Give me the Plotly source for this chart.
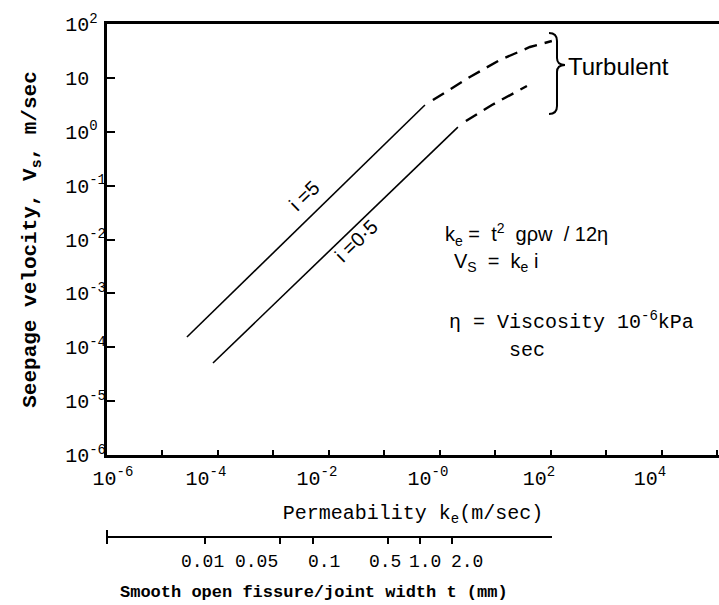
import plotly.graph_objects as go
import numpy as np

# ---- data ----
ke_i5_laminar = [2.76e-5, 0.537]
vs_i5_laminar = [1.55e-4, 3.14]
ke_i5_turb = [0.748, 3.47, 12.1, 41.9, 104]
vs_i5_turb = [3.88, 10.4, 21.5, 37.4, 48.3]

ke_i05_laminar = [8.13e-5, 2.11]
vs_i05_laminar = [5.1e-5, 1.22]
ke_i05_turb = [2.94, 8.65, 37.0]
vs_i05_turb = [1.58, 3.14, 7.06]

x_label_exponents = [-6, -4, -2, 0, 2, 4]
x_label_powers = ["-6", "-4", "-2", "-0", "2", "4"]
x_minor_exponents = [-5, -3, -1, 1, 3, 5]
y_exponents = list(range(-6, 3))
t_ticks = [0.01, 0.05, 0.1, 0.5, 1.0, 2.0]
t_labels = ["0.01", "0.05", "0.1", "0.5", "1.0", "2.0"]

MONO = "Liberation Mono"
SANS = "Liberation Sans"
W, H = 719, 605
L, R, T, B = 107, 0, 24, 68
PW, PH = W - L - R, H - T - B


def px(x):
    return (x - L) / PW


def py(y):
    return (H - B - y) / PH


NB = "\u00a0"
x_ticktext = []
for i, p in enumerate(x_label_powers):
    lead = NB if i == 0 else ""
    trail = "" if i == 0 else NB + NB
    x_ticktext.append(lead + "10<sup>" + p + "</sup>" + trail)

y_ticktext = []
for e in y_exponents:
    if e == 1:
        y_ticktext.append("10<sup>" + NB + NB + "</sup>")
    elif e >= 0:
        y_ticktext.append("10<sup>" + str(e) + NB + "</sup>")
    else:
        y_ticktext.append("10<sup>" + str(e) + "</sup>")

# small horizontal nudges (px) so the fissure-width labels sit like the printed ones
t_label_shift = [-3, -24, 11, -3, 5, 15]

fig = go.Figure()
solid = dict(color="black", width=1.6)
dashed = dict(color="black", width=2.4, dash="13px,8px")
fig.add_trace(go.Scatter(x=ke_i5_laminar, y=vs_i5_laminar, mode="lines", line=solid, showlegend=False))
fig.add_trace(go.Scatter(x=ke_i5_turb, y=vs_i5_turb, mode="lines", line=dashed, showlegend=False))
fig.add_trace(go.Scatter(x=ke_i05_laminar, y=vs_i05_laminar, mode="lines", line=solid, showlegend=False))
fig.add_trace(go.Scatter(x=ke_i05_turb, y=vs_i05_turb, mode="lines", line=dashed, showlegend=False))
# trace hosting the fissure-width axis (no visible marks)
fig.add_trace(go.Scatter(x=t_ticks, y=[None] * len(t_ticks), xaxis="x2", yaxis="y",
                         mode="markers", showlegend=False, hoverinfo="skip"))

t_lo = 10 ** (-2 - (205 - L) / 107.5)
t_hi = 10 ** ((552 - 420) / 107.5)

fig.update_layout(
    width=W, height=H,
    margin=dict(l=L, r=R, t=T, b=B, pad=0),
    paper_bgcolor="white", plot_bgcolor="rgba(0,0,0,0)",
    font=dict(family=MONO, size=20, color="black"),
    xaxis=dict(
        type="log", range=[-6, 5.03], domain=[0, 1],
        tickvals=[10.0 ** e for e in x_label_exponents], ticktext=x_ticktext, tickangle=0,
        ticks="inside", ticklen=5, tickwidth=1.5, tickcolor="black",
        minor=dict(tickvals=[10.0 ** e for e in x_minor_exponents], ticks="inside",
                   ticklen=5, tickwidth=1.5, tickcolor="black", showgrid=False),
        showline=True, linewidth=2.5, linecolor="black", mirror=True,
        showgrid=False, zeroline=False,
        tickfont=dict(family=MONO, size=20), ticklabelstandoff=3,
        title=dict(text="Permeability k<sub>e</sub>(m/sec)", font=dict(family=MONO, size=20), standoff=16),
    ),
    yaxis=dict(
        type="log", range=[-6, 2], domain=[py(455), 1],
        tickvals=[10.0 ** e for e in y_exponents], ticktext=y_ticktext,
        ticks="inside", ticklen=8, tickwidth=2, tickcolor="black",
        showline=True, linewidth=3, linecolor="black",
        showgrid=False, zeroline=False,
        tickfont=dict(family=MONO, size=20), ticklabelstandoff=-6,
        title=dict(text="Seepage velocity, V<sub>s</sub>, m/sec",
                   font=dict(family=MONO, size=21, weight="bold"), standoff=23),
    ),
    xaxis2=dict(
        type="log", range=[np.log10(t_lo), np.log10(t_hi)], domain=[0, px(552)],
        anchor="free", position=0,
        tickvals=t_ticks, showticklabels=False,
        ticks="outside", ticklen=6, tickwidth=1.5, tickcolor="black",
        showline=True, linewidth=2, linecolor="black",
        showgrid=False, zeroline=False,
    ),
)

# left end bar of the fissure-width scale
fig.add_shape(type="line", xref="paper", yref="paper", x0=0, x1=0,
              y0=py(530), y1=py(544), line=dict(color="black", width=2))

# fissure-width scale labels, placed on the width axis
for tv, lab, sh in zip(t_ticks, t_labels, t_label_shift):
    fig.add_annotation(text=lab, xref="x2", x=np.log10(tv), yref="paper", y=py(562),
                       xanchor="center", yanchor="middle", xshift=sh, showarrow=False,
                       font=dict(family=MONO, size=18))


# brace for turbulent zone
def P(x, y):
    return f"{px(x):.5f},{py(y):.5f}"


brace = ("M " + P(549, 33) + " Q " + P(557, 33) + " " + P(557, 41) + " L " + P(557, 58)
         + " Q " + P(557, 65) + " " + P(565, 65) + " Q " + P(557, 65) + " " + P(557, 72)
         + " L " + P(557, 106) + " Q " + P(557, 114) + " " + P(549, 114))
fig.add_shape(type="path", xref="paper", yref="paper", path=brace,
              line=dict(color="black", width=2))

ann = [
    dict(text="Turbulent", x=px(566), y=py(66), xanchor="left", font=dict(family=SANS, size=24)),
    dict(text="i =5", x=px(304), y=py(196), xanchor="center", textangle=-44,
         font=dict(family=SANS, size=20)),
    dict(text="i =0\u00b75", x=px(356), y=py(241), xanchor="center", textangle=-44,
         font=dict(family=SANS, size=20)),
    dict(text="k<sub>e</sub> =  t<sup>2</sup>  g\u03c1w  / 12\u03b7", x=px(443), y=py(234),
         xanchor="left", font=dict(family=SANS, size=20)),
    dict(text="V<sub>S</sub>  =  k<sub>e</sub> i", x=px(452), y=py(262),
         xanchor="left", font=dict(family=SANS, size=20)),
    dict(text="\u03b7 = Viscosity 10<sup>-6</sup>kPa", x=px(447), y=py(321),
         xanchor="left", font=dict(family=MONO, size=20)),
    dict(text="sec", x=px(507), y=py(350), xanchor="left", font=dict(family=MONO, size=20)),
    dict(text="<b>Smooth open fissure/joint width t (mm)</b>", x=px(314), y=py(592),
         xanchor="center", font=dict(family=MONO, size=17)),
]
for a in ann:
    a.update(xref="paper", yref="paper", showarrow=False, yanchor="middle")
    fig.add_annotation(**a)

fig.write_html("out.html")
